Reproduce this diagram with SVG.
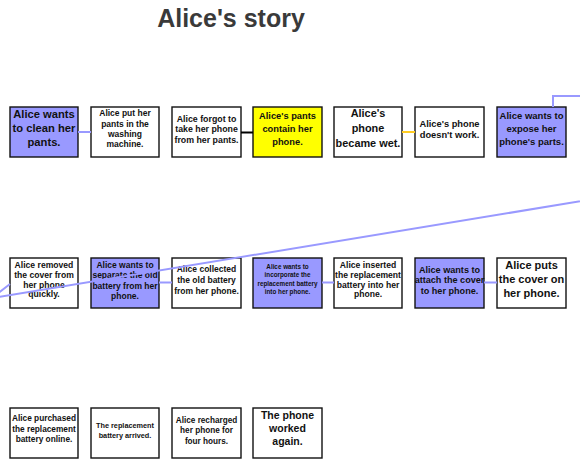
<svg xmlns="http://www.w3.org/2000/svg" width="580" height="459" viewBox="0 0 580 459">
<style>
text{font-family:"Liberation Sans",Arial,sans-serif;font-weight:bold;fill:#111;text-anchor:middle}
.title{font-size:25px;fill:#3a3a3a}
.box{stroke:#111;stroke-width:1.4;fill:#fff}
.want{fill:#9999ff}
.yel{fill:#ffff00}
.c{fill:none;stroke-width:2}
.p{stroke:#9999ff}
.k{stroke:#000}
.o{stroke:#ffcc22}
</style>
<rect width="580" height="459" fill="#fff"/>
<text class="title" x="231" y="27">Alice's story</text>
<g id="n1"><rect class="box want" x="10" y="107" width="68" height="50"/>
<text font-size="11.2"><tspan x="44" y="118">Alice wants</tspan><tspan x="44" y="132">to clean her</tspan><tspan x="44" y="146">pants.</tspan></text></g>
<g id="n2"><rect class="box" x="91" y="107" width="68" height="50"/>
<text font-size="8.5"><tspan x="125" y="116.3">Alice put her</tspan><tspan x="125" y="126.6">pants in the</tspan><tspan x="125" y="136.9">washing</tspan><tspan x="125" y="147.2">machine.</tspan></text></g>
<g id="n3"><rect class="box" x="172" y="107" width="69" height="50"/>
<text font-size="8.8"><tspan x="206.5" y="121.5">Alice forgot to</tspan><tspan x="206.5" y="132.3">take her phone</tspan><tspan x="206.5" y="143.1">from her pants.</tspan></text></g>
<g id="n4"><rect class="box yel" x="253" y="107" width="69" height="50"/>
<text font-size="9.3"><tspan x="287.5" y="119.4">Alice's pants</tspan><tspan x="287.5" y="132.2">contain her</tspan><tspan x="287.5" y="145">phone.</tspan></text></g>
<g id="n5"><rect class="box" x="334" y="107" width="68" height="50"/>
<text font-size="10.9"><tspan x="368" y="117.3">Alice's</tspan><tspan x="368" y="132">phone</tspan><tspan x="368" y="146.7">became wet.</tspan></text></g>
<g id="n6"><rect class="box" x="415" y="107" width="69" height="50"/>
<text font-size="9.3"><tspan x="449.5" y="126.6">Alice's phone</tspan><tspan x="449.5" y="138.3">doesn't work.</tspan></text></g>
<g id="n7"><rect class="box want" x="497" y="107" width="69" height="50"/>
<text font-size="9.5"><tspan x="531.5" y="119.4">Alice wants to</tspan><tspan x="531.5" y="132.2">expose her</tspan><tspan x="531.5" y="145">phone's parts.</tspan></text></g>

<g id="n8"><rect class="box" x="10" y="258" width="68" height="50"/>
<text font-size="8.6"><tspan x="44" y="268">Alice removed</tspan><tspan x="44" y="277.8">the cover from</tspan><tspan x="44" y="287.6">her phone</tspan><tspan x="44" y="297.4">quickly.</tspan></text></g>
<g id="n9"><rect class="box want" x="91" y="258" width="68" height="50"/>
<text font-size="8.5"><tspan x="125" y="268">Alice wants to</tspan><tspan x="125" y="278.3">separate the old</tspan><tspan x="125" y="288.6">battery from her</tspan><tspan x="125" y="298.9">phone.</tspan></text></g>
<g id="n10"><rect class="box" x="172" y="258" width="69" height="50"/>
<text font-size="8.5"><tspan x="206.5" y="272.3">Alice collected</tspan><tspan x="206.5" y="283">the old battery</tspan><tspan x="206.5" y="293.7">from her phone.</tspan></text></g>
<g id="n11"><rect class="box want" x="253" y="258" width="69" height="50"/>
<text font-size="6.3"><tspan x="287.5" y="269">Alice wants to</tspan><tspan x="287.5" y="277.4">incorporate the</tspan><tspan x="287.5" y="285.8">replacement battery</tspan><tspan x="287.5" y="294.2">into her phone.</tspan></text></g>
<g id="n12"><rect class="box" x="334" y="258" width="68" height="50"/>
<text font-size="8.6"><tspan x="368" y="268">Alice inserted</tspan><tspan x="368" y="277.8">the replacement</tspan><tspan x="368" y="287.6">battery into her</tspan><tspan x="368" y="297.4">phone.</tspan></text></g>
<g id="n13"><rect class="box want" x="415" y="258" width="69" height="50"/>
<text font-size="9.1"><tspan x="449.5" y="272.5">Alice wants to</tspan><tspan x="449.5" y="283.3">attach the cover</tspan><tspan x="449.5" y="294.1">to her phone.</tspan></text></g>
<g id="n14"><rect class="box" x="497" y="258" width="69" height="50"/>
<text font-size="11"><tspan x="531.5" y="269">Alice puts</tspan><tspan x="531.5" y="283">the cover on</tspan><tspan x="531.5" y="297">her phone.</tspan></text></g>

<g id="n15"><rect class="box" x="10" y="408" width="68" height="50"/>
<text font-size="8.3"><tspan x="44" y="421.3">Alice purchased</tspan><tspan x="44" y="431.8">the replacement</tspan><tspan x="44" y="442.3">battery online.</tspan></text></g>
<g id="n16"><rect class="box" x="91" y="408" width="68" height="50"/>
<text font-size="7.3"><tspan x="125" y="428.3">The replacement</tspan><tspan x="125" y="438.3">battery arrived.</tspan></text></g>
<g id="n17"><rect class="box" x="172" y="408" width="69" height="50"/>
<text font-size="8.2"><tspan x="206.5" y="423">Alice recharged</tspan><tspan x="206.5" y="433.3">her phone for</tspan><tspan x="206.5" y="443.6">four hours.</tspan></text></g>
<g id="n18"><rect class="box" x="253" y="408" width="69" height="50"/>
<text font-size="10.5"><tspan x="287.5" y="418.7">The phone</tspan><tspan x="287.5" y="432">worked</tspan><tspan x="287.5" y="445.3">again.</tspan></text></g>

<g id="connectors">
<line class="c p" x1="78" y1="132" x2="91" y2="132"/>
<line class="c k" x1="241" y1="132.5" x2="253" y2="132.5"/>
<line class="c o" x1="402" y1="132" x2="415" y2="132"/>
<polyline class="c p" points="553,107 553,96 600,96 600,198 -8,298 10,284"/>
<line class="c p" x1="159" y1="282.5" x2="172" y2="282.5"/>
<line class="c p" x1="322" y1="282.5" x2="334" y2="282.5"/>
<line class="c p" x1="484" y1="282.5" x2="497" y2="282.5"/>
</g>
</svg>
